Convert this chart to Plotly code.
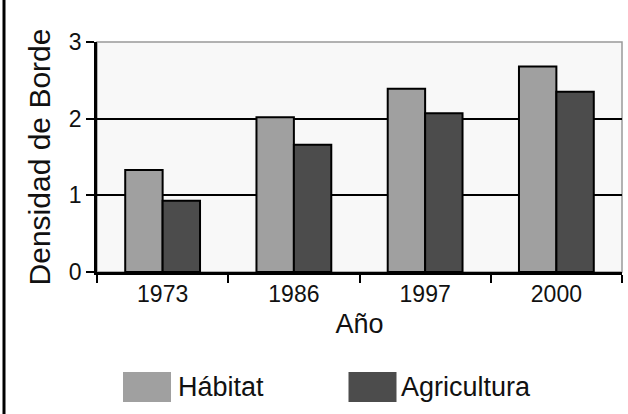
import plotly.graph_objects as go

years = ["1973", "1986", "1997", "2000"]
habitat = [1.33, 2.02, 2.39, 2.68]
agricultura = [0.93, 1.66, 2.07, 2.35]
series_names = ["Hábitat", "Agricultura"]
series_colors = ["#a0a0a0", "#4c4c4c"]
y_ticks = [0, 1, 2, 3]

FONT = "Liberation Sans, Arial, sans-serif"
W, H = 628, 414
ML, MR, MT, MB = 97, 6, 42, 142
PW, PH = W - ML - MR, H - MT - MB


def px_x(p):
    return (p - ML) / PW


def px_y(p):
    return (H - MB - p) / PH


fig = go.Figure()
for name, vals, col in zip(series_names, [habitat, agricultura], series_colors):
    fig.add_trace(go.Bar(
        x=years, y=vals, name=name,
        marker=dict(color=col, line=dict(color="#000000", width=2)),
        showlegend=False,
    ))

shapes = [
    # gray frame (top/right visible; left/bottom covered by black axis lines)
    dict(type="rect", xref="x domain", yref="y domain", x0=0, x1=1, y0=0, y1=1,
         line=dict(color="#999999", width=1.5), layer="below"),
    # black border line at the left edge of the image
    dict(type="line", xref="paper", yref="paper", x0=px_x(4), x1=px_x(4),
         y0=px_y(H), y1=px_y(0), line=dict(color="#000000", width=3)),
]

# legend drawn as large swatches
legend_boxes = [(123, 171), (348.5, 396.5)]
legend_text_x = [176, 399]
annotations = []
for (bx0, bx1), tx, name, col in zip(legend_boxes, legend_text_x, series_names, series_colors):
    shapes.append(dict(type="rect", xref="paper", yref="paper",
                       x0=px_x(bx0), x1=px_x(bx1), y0=px_y(402), y1=px_y(372),
                       fillcolor=col, line=dict(width=0)))
    annotations.append(dict(xref="paper", yref="paper", x=px_x(tx), y=px_y(387),
                            xanchor="left", yanchor="middle", showarrow=False,
                            text=name, font=dict(family=FONT, size=27, color="#111111")))

fig.update_layout(
    width=W, height=H,
    margin=dict(l=ML, r=MR, t=MT, b=MB, pad=0),
    paper_bgcolor="#ffffff",
    plot_bgcolor="#f8f8f8",
    barmode="group", bargap=0.43, bargroupgap=0,
    font=dict(family=FONT, color="#111111"),
    shapes=shapes,
    annotations=annotations,
    xaxis=dict(
        showline=True, linecolor="#000000", linewidth=2.5,
        ticks="outside", tickson="boundaries", ticklen=8, tickwidth=2, tickcolor="#000000",
        tickfont=dict(family=FONT, size=23, color="#111111"),
        title=dict(text="Año", font=dict(family=FONT, size=27, color="#111111"), standoff=8),
        showgrid=False,
    ),
    yaxis=dict(
        range=[0, 3], tickvals=y_ticks,
        showline=True, linecolor="#000000", linewidth=2.5,
        ticks="outside", ticklen=8, tickwidth=2, tickcolor="#000000",
        tickfont=dict(family=FONT, size=23, color="#111111"),
        showgrid=True, gridcolor="#000000", gridwidth=2,
        zeroline=False,
        title=dict(text="Densidad de Borde", font=dict(family=FONT, size=30, color="#111111"), standoff=10),
    ),
)

fig.write_html("out.html", config={"displayModeBar": False},
               post_script="document.body.style.margin='0px';")
